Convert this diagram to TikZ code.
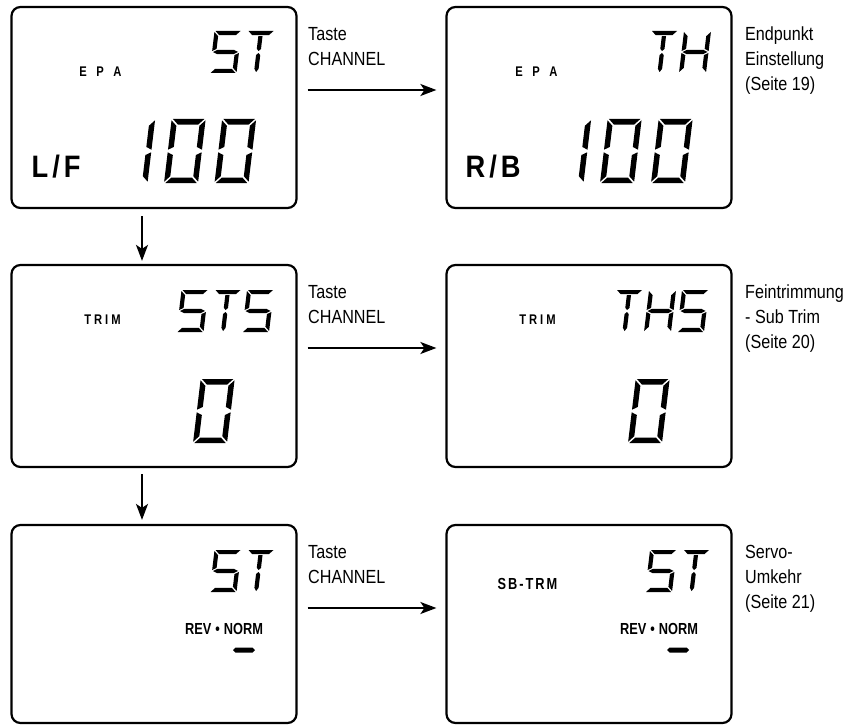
\documentclass[tikz,border=0pt]{standalone}
\usepackage{fontspec}
\setmainfont{Liberation Sans}
\newfontfamily\labelfont[FakeStretch=0.85]{Liberation Sans}
\newfontfamily\lcdfont[FakeStretch=0.88]{Liberation Sans}
\newfontfamily\lcdcond[FakeStretch=0.8]{Liberation Sans}
\usetikzlibrary{arrows.meta}

% seven-segment helpers
\newcommand\lcdbig{\def\lcdW{34}\def\lcdH{64}\def\lcdT{5.5}\def\lcdG{1.3}}
\newcommand\lcdsmall{\def\lcdW{27}\def\lcdH{42}\def\lcdT{4.2}\def\lcdG{1}}
\def\lcdsega{\fill (\lcdG,\lcdH) -- (\lcdW-\lcdG,\lcdH) -- (\lcdW-\lcdT-\lcdG,\lcdH-\lcdT) -- (\lcdT+\lcdG,\lcdH-\lcdT) -- cycle;}
\def\lcdsegb{\fill (\lcdW,\lcdH-\lcdG) -- (\lcdW,\lcdH/2+\lcdG) -- (\lcdW-\lcdT,\lcdH/2+\lcdT/2+\lcdG) -- (\lcdW-\lcdT,\lcdH-\lcdT-\lcdG) -- cycle;}
\def\lcdsegc{\fill (\lcdW,\lcdG) -- (\lcdW,\lcdH/2-\lcdG) -- (\lcdW-\lcdT,\lcdH/2-\lcdT/2-\lcdG) -- (\lcdW-\lcdT,\lcdT+\lcdG) -- cycle;}
\def\lcdsegd{\fill (\lcdG,0) -- (\lcdW-\lcdG,0) -- (\lcdW-\lcdT-\lcdG,\lcdT) -- (\lcdT+\lcdG,\lcdT) -- cycle;}
\def\lcdsege{\fill (0,\lcdG) -- (0,\lcdH/2-\lcdG) -- (\lcdT,\lcdH/2-\lcdT/2-\lcdG) -- (\lcdT,\lcdT+\lcdG) -- cycle;}
\def\lcdsegf{\fill (0,\lcdH-\lcdG) -- (0,\lcdH/2+\lcdG) -- (\lcdT,\lcdH/2+\lcdT/2+\lcdG) -- (\lcdT,\lcdH-\lcdT-\lcdG) -- cycle;}
\def\lcdsegg{\fill (\lcdG,\lcdH/2) -- (\lcdT+\lcdG,\lcdH/2+\lcdT/2) -- (\lcdW-\lcdT-\lcdG,\lcdH/2+\lcdT/2) -- (\lcdW-\lcdG,\lcdH/2) -- (\lcdW-\lcdT-\lcdG,\lcdH/2-\lcdT/2) -- (\lcdT+\lcdG,\lcdH/2-\lcdT/2) -- cycle;}
\def\lcdsegi{\fill (\lcdW/2-\lcdT/2,\lcdH-\lcdT-\lcdG) -- (\lcdW/2+\lcdT/2,\lcdH-\lcdT-\lcdG) -- (\lcdW/2+\lcdT/2,\lcdH/2+\lcdT/2+\lcdG) -- (\lcdW/2,\lcdH/2+\lcdG) -- (\lcdW/2-\lcdT/2,\lcdH/2+\lcdT/2+\lcdG) -- cycle;}
\def\lcdsegj{\fill (\lcdW/2-\lcdT/2,\lcdH/2-\lcdT/2-\lcdG) -- (\lcdW/2,\lcdH/2-\lcdG) -- (\lcdW/2+\lcdT/2,\lcdH/2-\lcdT/2-\lcdG) -- (\lcdW/2+\lcdT/2,\lcdT) -- (\lcdW/2,\lcdG) -- (\lcdW/2-\lcdT/2,\lcdT) -- cycle;}
\newcommand\lcddigit[3]{%
  \begin{scope}[shift={#1}, xslant=0.12, yscale=-1]
    #2
    \foreach \s in {#3}{\csname lcdseg\s\endcsname}
  \end{scope}}
\newcommand\lcddash[1]{%
  \begin{scope}[shift={#1}]
    \fill (-11,0) -- (-8.5,-2.5) -- (8.5,-2.5) -- (11,0) -- (8.5,2.5) -- (-8.5,2.5) -- cycle;
  \end{scope}}

\tikzset{
  lcdbox/.style={draw, line width=2.2pt, rounded corners=9pt, minimum width=285pt, inner sep=0pt},
  arr/.style={line width=1.8pt, -{Stealth[length=16pt,width=12pt,inset=4pt]}},
  side/.style={anchor=north west, inner sep=0pt, align=left, font=\labelfont\fontsize{19}{25}\selectfont},
  lcdsm/.style={inner sep=0pt, font=\lcdcond\bfseries\fontsize{14}{14}\selectfont},
  lcdmid/.style={inner sep=0pt, font=\lcdcond\bfseries\fontsize{16}{16}\selectfont},
  lcdbg/.style={inner sep=0pt, anchor=base west, font=\lcdfont\bfseries\fontsize{31}{31}\selectfont}
}

\begin{document}
\begin{tikzpicture}[x=1pt, y=-1pt]
\useasboundingbox (0,0) rectangle (863,725);

% boxes
\node[lcdbox, minimum height=201pt] (b1) at (154,107.5) {};
\node[lcdbox, minimum height=201pt] (b2) at (589,107.5) {};
\node[lcdbox, minimum height=202pt] (b3) at (154,366) {};
\node[lcdbox, minimum height=202pt] (b4) at (589,366) {};
\node[lcdbox, minimum height=198pt] (b5) at (154,624) {};
\node[lcdbox, minimum height=198pt] (b6) at (589,624) {};

% connectors
\draw[arr, shorten <=10pt, shorten >=9pt] ([yshift=17.5pt]b1.east) -- ([yshift=17.5pt]b2.west);
\draw[arr, shorten <=10pt, shorten >=9pt] ([yshift=18pt]b3.east) -- ([yshift=18pt]b4.west);
\draw[arr, shorten <=10pt, shorten >=9pt] ([yshift=16pt]b5.east) -- ([yshift=16pt]b6.west);
\draw[arr, shorten <=7pt, shorten >=3pt] ([xshift=-12pt]b1.south) -- ([xshift=-12pt]b3.north);
\draw[arr, shorten <=6pt, shorten >=4pt] ([xshift=-12pt]b3.south) -- ([xshift=-12pt]b5.north);

% Taste CHANNEL labels
\node[side] (k1) at (308,27) {Taste\\CHANNEL};
\node[side] (k2) at (308,285) {Taste\\CHANNEL};
\node[side] (k3) at (308,545) {Taste\\CHANNEL};

% side descriptions
\node[side] (s1) at (745,27) {Endpunkt\\Einstellung\\(Seite 19)};
\node[side] (s2) at (745,285) {Feintrimmung\\- Sub Trim\\(Seite 20)};
\node[side] (s3) at (745,545) {Servo-\\Umkehr\\(Seite 21)};

% ---- row 1 left
\node[lcdsm] (epa1) at (100.5,72) {E\hspace{9.5pt}P\hspace{9.5pt}A};
\node[lcdbg] (lf) at (31.5,177) {L\hspace{4pt}/\hspace{4pt}F};
\lcddigit{(209.5,73)}{\lcdsmall}{a,f,g,c,d}
\lcddigit{(242.5,73)}{\lcdsmall}{a,i,j}
\lcddigit{(113.5,183)}{\lcdbig}{b,c}
\lcddigit{(164,183)}{\lcdbig}{a,b,c,d,e,f}
\lcddigit{(214.5,183)}{\lcdbig}{a,b,c,d,e,f}

% ---- row 1 right
\node[lcdsm] (epa2) at (536.5,72) {E\hspace{9.5pt}P\hspace{9.5pt}A};
\node[lcdbg] (rb) at (465.5,177) {R\hspace{4pt}/\hspace{4pt}B};
\lcddigit{(646,73)}{\lcdsmall}{a,i,j}
\lcddigit{(679,73)}{\lcdsmall}{b,c,e,f,g}
\lcddigit{(549.5,183)}{\lcdbig}{b,c}
\lcddigit{(600,183)}{\lcdbig}{a,b,c,d,e,f}
\lcddigit{(651,183)}{\lcdbig}{a,b,c,d,e,f}

% ---- row 2 left
\node[lcdsm] (trim1) at (102.5,320) {T\hspace{3pt}R\hspace{3pt}I\hspace{3pt}M};
\lcddigit{(176.5,332)}{\lcdsmall}{a,f,g,c,d}
\lcddigit{(209.5,332)}{\lcdsmall}{a,i,j}
\lcddigit{(242,332)}{\lcdsmall}{a,f,g,c,d}
\lcddigit{(193,443)}{\lcdbig}{a,b,c,d,e,f}

% ---- row 2 right
\node[lcdsm] (trim2) at (537.5,320) {T\hspace{3pt}R\hspace{3pt}I\hspace{3pt}M};
\lcddigit{(611,332)}{\lcdsmall}{a,i,j}
\lcddigit{(644,332)}{\lcdsmall}{b,c,e,f,g}
\lcddigit{(677,332)}{\lcdsmall}{a,f,g,c,d}
\lcddigit{(628,443)}{\lcdbig}{a,b,c,d,e,f}

% ---- row 3 left
\lcddigit{(209.5,592)}{\lcdsmall}{a,f,g,c,d}
\lcddigit{(242.5,592)}{\lcdsmall}{a,i,j}
\node[lcdmid] (rev1) at (224,629) {REV\hspace{4pt}•\hspace{4pt}NORM};
\lcddash{(244,650)}

% ---- row 3 right
\node[lcdmid] (sbt) at (527.5,584) {S\hspace{2pt}B\hspace{2pt}-\hspace{2pt}T\hspace{2pt}R\hspace{2pt}M};
\lcddigit{(645,592)}{\lcdsmall}{a,f,g,c,d}
\lcddigit{(678,592)}{\lcdsmall}{a,i,j}
\node[lcdmid] (rev2) at (659,629) {REV\hspace{4pt}•\hspace{4pt}NORM};
\lcddash{(678,650)}
\end{tikzpicture}
\end{document}
